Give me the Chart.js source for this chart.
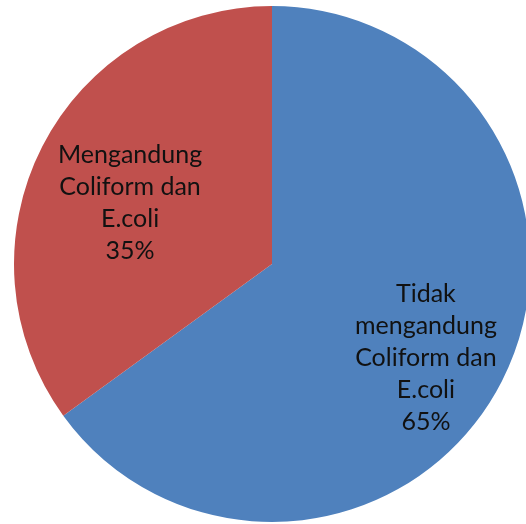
<!DOCTYPE html>
<html>
<head>
<meta charset="utf-8">
<script src="https://cdn.jsdelivr.net/npm/chart.js@4.4.0/dist/chart.umd.min.js"></script>
<style>
  html, body { margin: 0; padding: 0; background: #fff; overflow: hidden; }
  #wrap { position: absolute; left: 0; top: 0; width: 544px; height: 528px; }
</style>
</head>
<body>
<div id="wrap"><canvas id="pie"></canvas></div>
<script>
// Data
const labels = [
  ['Tidak', 'mengandung', 'Coliform dan', 'E.coli'],
  ['Mengandung', 'Coliform dan', 'E.coli']
];
const values = [65, 35];
const colors = ['#4F81BD', '#C0504D'];

// label placement: fraction of radius out from the center, plus a small nudge
const labelDist = [0.7, 0.6];
const labelNudge = [[-7, 12], [-4, 9]];

const sliceLabels = {
  id: 'sliceLabels',
  afterDatasetsDraw(chart) {
    const ctx = chart.ctx;
    const meta = chart.getDatasetMeta(0);
    const total = values.reduce((a, b) => a + b, 0);
    ctx.save();
    ctx.font = '25px Lato, "Open Sans", sans-serif';
    ctx.fillStyle = '#111';
    ctx.textAlign = 'center';
    ctx.textBaseline = 'middle';
    meta.data.forEach((arc, i) => {
      const mid = (arc.startAngle + arc.endAngle) / 2;
      const r = arc.outerRadius * labelDist[i];
      const cx = arc.x + Math.cos(mid) * r + labelNudge[i][0];
      const cy = arc.y + Math.sin(mid) * r + labelNudge[i][1];
      const lines = labels[i].concat([Math.round(values[i] / total * 100) + '%']);
      const lh = 32;
      const y0 = cy - (lines.length - 1) * lh / 2;
      lines.forEach((t, j) => ctx.fillText(t, cx, y0 + j * lh));
    });
    ctx.restore();
  }
};

new Chart(document.getElementById('pie'), {
  type: 'pie',
  data: {
    labels: labels.map(l => l.join(' ')),
    datasets: [{
      data: values,
      backgroundColor: colors,
      borderWidth: 0
    }]
  },
  options: {
    responsive: true,
    maintainAspectRatio: false,
    animation: false,
    layout: { padding: { top: 6, bottom: 6 } },
    plugins: {
      legend: { display: false },
      tooltip: { enabled: false }
    }
  },
  plugins: [sliceLabels]
});
</script>
</body>
</html>
